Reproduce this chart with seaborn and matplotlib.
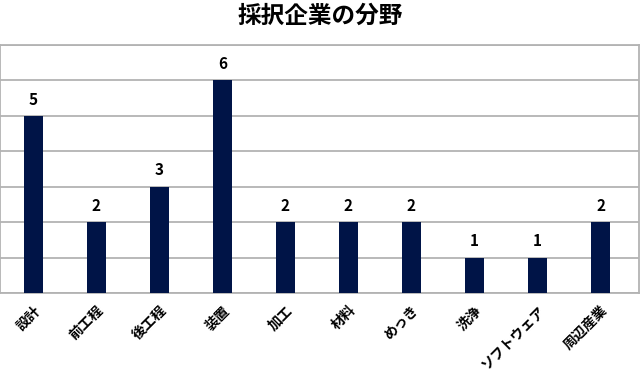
import matplotlib
matplotlib.use("Agg")
import matplotlib.pyplot as plt
import matplotlib.transforms as mtransforms
import seaborn as sns
import pandas as pd

categories = ["設計", "前工程", "後工程", "装置", "加工", "材料", "めっき", "洗浄", "ソフトウェア", "周辺産業"]
counts = [5, 2, 3, 6, 2, 2, 2, 1, 1, 2]
title = "採択企業の分野"

sns.set_theme(style="white")
plt.rcParams['font.family'] = ['Noto Sans CJK JP', 'DejaVu Sans']

df = pd.DataFrame({"cat": categories, "n": counts})

fig = plt.figure(figsize=(6.4, 3.77), dpi=100)
ax = fig.add_axes([0.0, 1 - 293/377, 639/640, (293-45)/377])

sns.barplot(data=df, x="cat", y="n", color="#001447", width=0.30, ax=ax,
            zorder=3, saturation=1, linewidth=0, edgecolor="none")

ax.set_ylim(0, 7)
ax.set_xlim(-0.528, 9.61)
ax.set_yticks(range(0, 8))
ax.set_yticklabels([])
ax.tick_params(axis='y', length=0)
ax.tick_params(axis='x', length=0, pad=11)
ax.grid(axis='y', color='#b3b3b3', linewidth=1.3, zorder=0)
for s in ax.spines.values():
    s.set_color('#b3b3b3')
    s.set_linewidth(1.3)
ax.set_xlabel("")
ax.set_ylabel("")

offset = mtransforms.ScaledTranslation(5/100, 0, fig.dpi_scale_trans)
for lbl in ax.get_xticklabels():
    lbl.set_rotation(45)
    lbl.set_ha('right')
    lbl.set_va('center')
    lbl.set_rotation_mode('anchor')
    lbl.set_fontsize(10)
    lbl.set_fontweight('bold')
    lbl.set_color('black')
    lbl.set_transform(lbl.get_transform() + offset)

for i, v in enumerate(counts):
    ax.annotate(str(v), (i, v), xytext=(0, 6), textcoords='offset points',
                ha='center', va='bottom', fontsize=11, fontweight='bold', color='black')

fig.text(0.5, 1 - 16/377, title, ha='center', va='center', fontsize=17, fontweight='bold', color='black')

fig.savefig("out.png", dpi=100)
